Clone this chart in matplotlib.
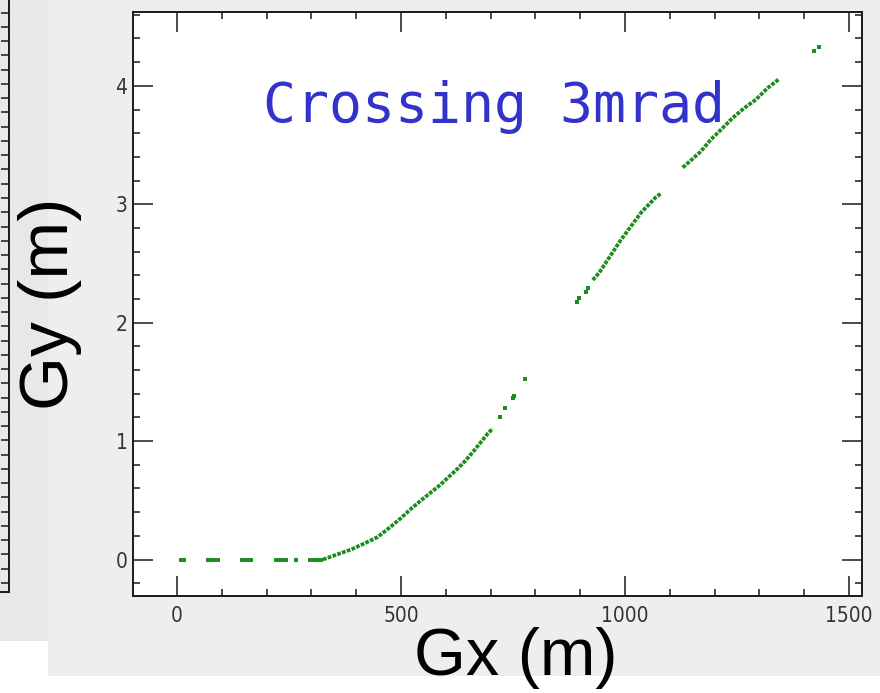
import matplotlib
matplotlib.use("Agg")
import matplotlib.pyplot as plt
from matplotlib.patches import Rectangle
from matplotlib.ticker import MultipleLocator
from matplotlib import font_manager as fm

# ---------------- data ----------------
# points lying on Gy = 0 (drawn as short dense runs)
dash_start = [5, 66, 141, 217, 262, 293]
dash_end = [21, 97, 170, 248, 271, 326]

# first rising branch
seg2_x = [326, 359, 389, 418, 448, 478, 500, 523, 545, 586, 627, 645, 664, 679, 694, 705]
seg2_y = [0.0, 0.045, 0.085, 0.135, 0.19, 0.28, 0.35, 0.43, 0.50, 0.625, 0.769, 0.839, 0.924, 0.994, 1.065, 1.107]
iso2_x = [720, 733, 749, 753, 777]
iso2_y = [1.205, 1.281, 1.366, 1.385, 1.524]

# second branch
iso3_x = [894, 898, 913, 917]
iso3_y = [2.178, 2.206, 2.262, 2.291]
seg3_x = [928, 935, 944, 991, 1036, 1069, 1080]
seg3_y = [2.361, 2.389, 2.431, 2.70, 2.93, 3.06, 3.09]

# third branch
seg4_x = [1129, 1169, 1191, 1214, 1240, 1266, 1292, 1318, 1344]
seg4_y = [3.31, 3.445, 3.544, 3.629, 3.728, 3.812, 3.883, 3.981, 4.058]

# last points
seg5_x = [1422, 1433]
seg5_y = [4.291, 4.325]

x_major = [0, 500, 1000, 1500]
y_major = [0, 1, 2, 3, 4]

title_text = "Crossing 3mrad"
xlabel_text = "Gx (m)"
ylabel_text = "Gy (m)"

# ---------------- fonts ----------------
ttf = fm.fontManager.ttflist
names = {f.name for f in ttf}
tick_kw = dict(family="Liberation Sans")
if "Liberation Sans Narrow" in names:
    tick_kw = dict(family="Liberation Sans Narrow")
elif any(f.name == "DejaVu Sans" and str(f.stretch) in ("condensed", "semi-condensed") for f in ttf):
    tick_kw = dict(family="DejaVu Sans", stretch="condensed")
label_font = "Liberation Sans" if "Liberation Sans" in names else "DejaVu Sans"
plt.rcParams["font.family"] = [label_font, "DejaVu Sans"]

W, H = 880, 693
fig = plt.figure(figsize=(W / 100, H / 100), dpi=100)
fig.patch.set_facecolor("white")

def fx(px):
    return px / W

def fy(py):
    return 1 - py / H

# panel backgrounds
fig.add_artist(Rectangle((fx(0), fy(641)), fx(49), 641 / H, transform=fig.transFigure,
                         facecolor="#e8e8e8", edgecolor="none", zorder=-10))
fig.add_artist(Rectangle((fx(48), fy(676)), fx(W - 48), 676 / H, transform=fig.transFigure,
                         facecolor="#eeeeee", edgecolor="none", zorder=-9))

# neighbouring panel's axis at the left edge
axl = fig.add_axes([fx(-200), fy(592), fx(208.5), 592 / H + 0.05])
axl.set_facecolor("none")
axl.set_xlim(0, 1)
axl.set_ylim(0, 592 + 0.05 * H)
for s in ["left", "top"]:
    axl.spines[s].set_visible(False)
for s in ["right", "bottom"]:
    axl.spines[s].set_linewidth(1.4)
    axl.spines[s].set_color("#1a1a1a")
axl.yaxis.tick_right()
axl.set_yticks([9 + 14.26 * k for k in range(44)])
axl.tick_params(axis="y", direction="in", length=5.8, width=1.1, color="#1a1a1a", labelright=False)
axl.set_xticks([])

# main axes
L, R, T, B = 133, 862, 11.5, 596
ax = fig.add_axes([fx(L), fy(B), (R - L) / W, (B - T) / H])
ax.set_facecolor("white")

green = "#1f8c1f"
for s, e in zip(dash_start, dash_end):
    ax.plot([s, e], [0, 0], color=green, lw=2.8, solid_capstyle="butt", zorder=3)

dot_style = dict(color=green, lw=2.7, linestyle=(0, (1.0, 0.35)), dash_capstyle="butt", zorder=3)
ax.plot(seg2_x, seg2_y, **dot_style)
ax.plot(seg3_x, seg3_y, **dot_style)
ax.plot(seg4_x, seg4_y, **dot_style)
pt_style = dict(color=green, marker="s", markersize=3.0, linestyle="none", zorder=3, markeredgewidth=0)
ax.plot(iso2_x, iso2_y, **pt_style)
ax.plot(iso3_x, iso3_y, **pt_style)
ax.plot(seg5_x, seg5_y, **pt_style)

ax.set_xlim(-98, 1529)
ax.set_ylim(-0.308, 4.628)
ax.set_xticks(x_major)
ax.set_yticks(y_major)
ax.xaxis.set_minor_locator(MultipleLocator(100))
ax.yaxis.set_minor_locator(MultipleLocator(0.2))
ax.tick_params(which="both", direction="in", top=True, right=True, color="#1a1a1a")
ax.tick_params(which="major", length=14.4, width=1.1, labelsize=15, labelcolor="#333333")
ax.tick_params(which="minor", length=5.0, width=1.1)
ax.tick_params(axis="x", which="major", pad=7)
ax.tick_params(axis="y", which="major", pad=4)
for lbl in ax.get_xticklabels() + ax.get_yticklabels():
    lbl.set_fontfamily(tick_kw["family"])
    if "stretch" in tick_kw:
        lbl.set_fontstretch(tick_kw["stretch"])
for s in ax.spines.values():
    s.set_linewidth(1.4)
    s.set_color("#1a1a1a")

ax.text(193, 3.697, title_text, color="#3333cc", fontsize=39.5, family="DejaVu Sans Mono",
        ha="left", va="baseline")

ax.set_xlabel(xlabel_text, fontsize=48, family=label_font, color="black")
ax.xaxis.set_label_coords((516 - L) / (R - L), -(627 - B) / (B - T))
ax.xaxis.label.set_va("top")
ax.set_ylabel(ylabel_text, fontsize=50, family=label_font, color="black")
ax.yaxis.set_label_coords(-(L - 82) / (R - L), 0.5)

fig.savefig("out.png", dpi=100, facecolor=fig.get_facecolor())
